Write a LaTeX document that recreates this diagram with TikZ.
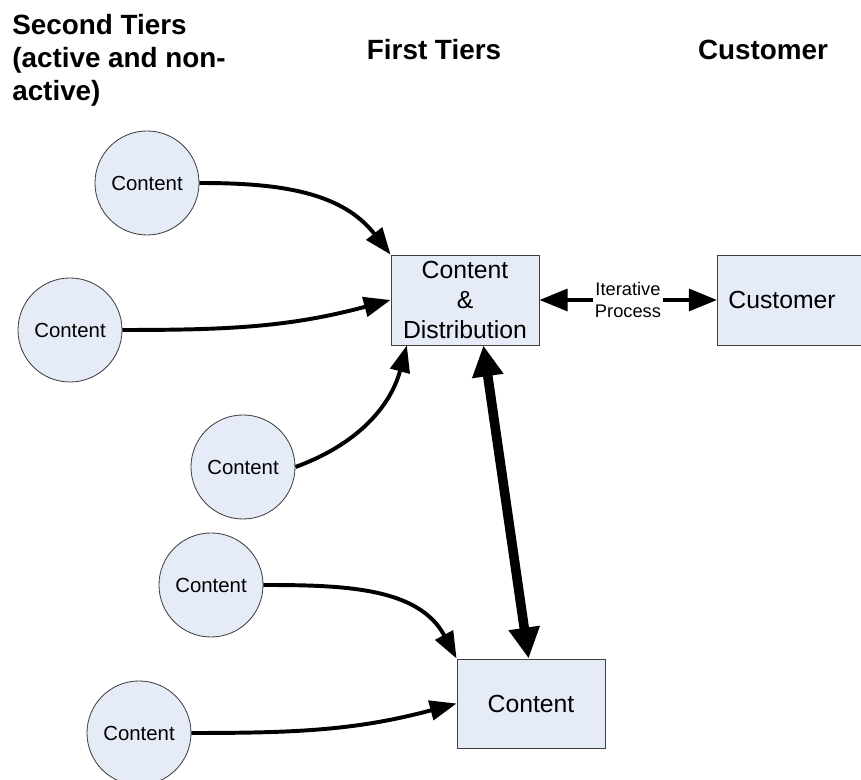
\documentclass[tikz,border=0pt]{standalone}
\usepackage{fontspec}
\setmainfont{Liberation Sans}
\usetikzlibrary{shapes.geometric, arrows.meta, positioning}
\definecolor{tierfill}{RGB}{230,236,247}
\definecolor{tierline}{RGB}{64,64,64}
\tikzstyle{tier} = [
  circle,
  minimum size=2.6cm,
  inner sep=0pt,
  draw=tierline,
  line width=0.6pt,
  fill=tierfill,
  font=\fontsize{14.5}{17}\selectfont
]
\tikzstyle{firm} = [
  rectangle,
  minimum width=3.7cm,
  minimum height=2.25cm,
  inner sep=0pt,
  align=center,
  draw=tierline,
  line width=0.6pt,
  fill=tierfill,
  font=\fontsize{17.6}{21.3}\selectfont
]
\tikzstyle{heading} = [inner sep=0pt, align=left, font=\fontsize{19.8}{23.4}\selectfont\bfseries]
\tikzstyle{arrow} = [line width=2.8pt, -{Triangle[length=19pt, width=14pt]}]
\tikzstyle{iterarrow} = [line width=2.8pt, -{Triangle[length=20pt, width=15.5pt]}]
\tikzstyle{bigarrow} = [line width=6.8pt, {Triangle[length=22pt, width=21pt]}-{Triangle[length=22pt, width=21pt]}]

\begin{document}
\begin{tikzpicture}[x=0.025cm, y=0.025cm]
    \useasboundingbox (0,0) rectangle (861,780);
    % headings
    \node (second-tiers) [heading, anchor=north west] at (12,766) {Second Tiers\\(active and non-\\active)};
    \node (first-tiers) [heading, anchor=base] at (434,720) {First Tiers};
    \node (customer-tier) [heading, anchor=base] at (763,720) {Customer};

    \node (tier-a) [tier] at (147,597) {Content};
    \node (tier-b) [tier] at (70,450) {Content};
    \node (tier-c) [tier] at (243,313) {Content};
    \node (tier-d) [tier] at (211,195) {Content};
    \node (tier-e) [tier] at (139,47) {Content};

    \node (content-distribution) [firm] at (465,480) {Content\\\&\\Distribution};
    \node (content-box) [firm, minimum height=2.225cm] at (531,76.5) {Content};
    \node (customer) [firm, anchor=west, minimum width=4cm, text width=3.45cm, align=left, inner xsep=0.275cm] at (717,480) {Customer};
    \node (iterative) [inner sep=1pt, align=center, font=\fontsize{13}{15.6}\selectfont] at (628,480) {Iterative\\Process};

    \draw [arrow] (tier-a.east) to[out=0, in=128] (content-distribution.north west);
    \draw [arrow] (tier-b.east) to[out=0, in=195] (content-distribution.west);
    \draw [arrow] (tier-c.east) to[out=20, in=-105] (content-distribution.218);
    \draw [arrow] (tier-d.east) to[out=0, in=118] (content-box.north west);
    \draw [arrow] (tier-e.east) to[out=0, in=195] (content-box.west);
    \draw [bigarrow] (content-distribution.-68) -- (content-box.93);
    \draw [iterarrow] (iterative) -- (content-distribution);
    \draw [iterarrow] (iterative) -- (customer);
  \end{tikzpicture}
\end{document}
